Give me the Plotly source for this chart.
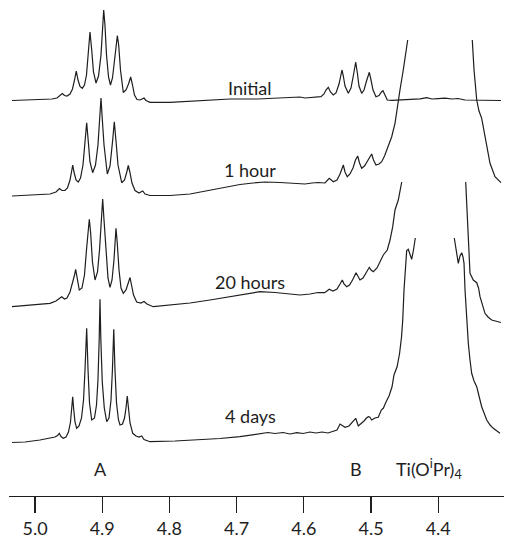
import plotly.graph_objects as go

# ---------------- data ----------------
# chemical shift (ppm) and stacked intensity (a.u.) for each spectrum; None = clipped peak top
initial_ppm = [5.0342, 5.0149, 4.9926, 4.9747, 4.9673, 4.9628, 4.9594, 4.9561, 4.9524, 4.9479,
               4.9442, 4.9412, 4.9386, 4.9360, 4.9331, 4.9296, 4.9264, 4.9234, 4.9207, 4.9182,
               4.9156, 4.9130, 4.9092, 4.9055, 4.9018, 4.8996, 4.8978, 4.8959, 4.8936, 4.8906,
               4.8877, 4.8847, 4.8817, 4.8795, 4.8775, 4.8755, 4.8728, 4.8686, 4.8646, 4.8609,
               4.8576, 4.8549, 4.8520, 4.8482, 4.8438, 4.8408, 4.8378, 4.8348, 4.8289, 4.7991,
               4.7545, 4.7098, 4.6682, 4.6354, 4.6057, 4.5982, 4.5908, 4.5819, 4.5744, 4.5700,
               4.5670, 4.5636, 4.5603, 4.5561, 4.5521, 4.5476, 4.5450, 4.5432, 4.5412, 4.5387,
               4.5338, 4.5298, 4.5261, 4.5228, 4.5201, 4.5179, 4.5139, 4.5104, 4.5067, 4.5025,
               4.5000, 4.4970, 4.4926, 4.4881, 4.4844, 4.4822, 4.4799, 4.4758, 4.4688, 4.4569,
               4.4420, 4.4271, 4.4171, 4.4092, 4.4003, 4.3899, 4.3795, 4.3706, 4.3601, 4.3453,
               4.3229, 4.3066]
initial_int = [395.5, 396, 396.5, 397, 398, 400.5, 402.5, 400.5, 400, 402,
               407, 416, 425, 416, 409.5, 407.7, 411, 421, 446, 464,
               446, 424, 413, 420, 441, 471, 486, 471, 441, 419,
               411, 418, 434, 451, 460.3, 451, 426, 403.5, 406, 412,
               419, 411, 401, 396.5, 396, 397, 398, 395.5, 393.7, 393.7,
               395, 397, 397, 397.7, 399, 398, 398.5, 399.2, 399.3, 402,
               406, 408.7, 404, 401, 403, 412, 420, 426, 420, 410,
               402.7, 408, 421, 434, 422, 410, 402.7, 406, 415, 423.7,
               416, 406, 399.3, 400.5, 404, 405.3, 402, 396, 395.7, 396,
               396.7, 397.2, 398.3, 397, 397.3, 397.8, 397, 397.5, 396, 395.7,
               395.5, 395.5]

hour1_ppm = [5.0342, 5.0075, 4.9777, 4.9688, 4.9636, 4.9598, 4.9554, 4.9517, 4.9479, 4.9457,
             4.9439, 4.9420, 4.9390, 4.9356, 4.9323, 4.9286, 4.9253, 4.9231, 4.9209, 4.9182,
             4.9142, 4.9100, 4.9063, 4.9036, 4.9018, 4.9000, 4.8973, 4.8924, 4.8884, 4.8844,
             4.8820, 4.8796, 4.8765, 4.8710, 4.8668, 4.8634, 4.8612, 4.8589, 4.8557, 4.8512,
             4.8453, 4.8397, 4.8363, 4.8289, 4.7991, 4.7694, 4.7247, 4.6950, 4.6756, 4.6578,
             4.6354, 4.6131, 4.5982, 4.5878, 4.5789, 4.5685, 4.5621, 4.5561, 4.5506, 4.5461,
             4.5412, 4.5387, 4.5353, 4.5313, 4.5268, 4.5231, 4.5198, 4.5171, 4.5139, 4.5097,
             4.5052, 4.5015, 4.4990, 4.4963, 4.4926, 4.4881, 4.4841, 4.4799, 4.4758, 4.4692,
             4.4643, 4.4609, 4.4569, 4.4520, 4.4479, 4.4454, None,
             4.3493, 4.3467, 4.3427, 4.3393, 4.3353, 4.3304, 4.3259, 4.3229, 4.3155, 4.3066]
hour1_int = [300, 301, 302, 304, 307.5, 305.5, 305.5, 308, 316, 324,
             331, 324, 316, 314, 318, 331, 356, 373.3, 356, 334,
             323.3, 331, 351, 378, 398, 378, 351, 322, 330, 356,
             374.3, 356, 331, 313.3, 316, 324, 330.5, 324, 313, 305.5,
             303, 305, 302, 300.5, 300.5, 302, 308, 311.5, 313, 314,
             313.5, 313, 312, 313, 313.5, 313, 317.7, 314.3, 316, 322,
             331, 324, 319.3, 322, 328, 336, 340, 333, 327.7, 330,
             335, 340, 342, 336, 331, 332, 334.3, 340, 347.7, 359.3,
             372.7, 389.3, 406, 426, 442.7, 456, None,
             456, 426, 396, 385, 377.7, 359.3, 343, 332.7, 319.3, 313.3]

hours20_ppm = [5.0342, 5.0075, 4.9777, 4.9688, 4.9643, 4.9603, 4.9561, 4.9524, 4.9479, 4.9435,
               4.9412, 4.9395, 4.9375, 4.9341, 4.9301, 4.9264, 4.9234, 4.9211, 4.9192, 4.9173,
               4.9145, 4.9107, 4.9070, 4.9040, 4.9014, 4.8993, 4.8973, 4.8944, 4.8914, 4.8884,
               4.8854, 4.8825, 4.8810, 4.8795, 4.8777, 4.8750, 4.8720, 4.8686, 4.8646, 4.8612,
               4.8586, 4.8564, 4.8534, 4.8487, 4.8423, 4.8378, 4.8334, 4.8240, 4.7991, 4.7694,
               4.7396, 4.7098, 4.6875, 4.6652, 4.6429, 4.6191, 4.6057, 4.5908, 4.5789, 4.5689,
               4.5621, 4.5566, 4.5506, 4.5461, 4.5427, 4.5402, 4.5362, 4.5320, 4.5275, 4.5223,
               4.5194, 4.5164, 4.5119, 4.5067, 4.5025, 4.5000, 4.4966, 4.4911, 4.4851, 4.4817,
               4.4758, 4.4717, 4.4677, 4.4643, 4.4594, 4.4561, 4.4543, None,
               4.3591, 4.3579, 4.3564, 4.3542, 4.3527, 4.3478, 4.3427, 4.3400, 4.3378, 4.3304,
               4.3259, 4.3204, 4.3140, 4.3066]
hours20_int = [189.3, 191, 192.7, 195, 197.5, 199.3, 197, 198, 204, 214,
               221, 226.7, 220, 206, 208, 221, 246, 264, 276.7, 264,
               234, 216, 224, 246, 276, 297, 276, 241, 218, 208.7,
               216, 236, 254, 267.7, 254, 226, 208, 202.7, 206, 213,
               218.5, 211, 201, 194, 193, 194.5, 192, 189.3, 191, 193,
               196, 199.5, 202, 204.3, 203.5, 202, 201, 202, 203.5, 203.3,
               206.7, 205, 207, 212, 216, 212, 209.3, 211, 216, 223.3,
               219, 216, 218, 224, 228.7, 226, 224.3, 228, 236, 241,
               246, 256, 269.3, 286, 296, 306, 314, None,
               314, 296, 266, 236, 222.7, 216, 213.3, 208, 199.3, 182.7,
               179, 176, 174.5, 173.5]

days4_ppm = [5.0342, 5.0149, 4.9926, 4.9777, 4.9703, 4.9665, 4.9639, 4.9613, 4.9579, 4.9539,
             4.9502, 4.9472, 4.9453, 4.9439, 4.9426, 4.9405, 4.9380, 4.9345, 4.9308, 4.9278,
             4.9256, 4.9231, 4.9211, 4.9189, 4.9156, 4.9115, 4.9085, 4.9063, 4.9045, 4.9033,
             4.9020, 4.8999, 4.8969, 4.8933, 4.8899, 4.8869, 4.8848, 4.8828, 4.8810, 4.8787,
             4.8758, 4.8735, 4.8698, 4.8668, 4.8646, 4.8627, 4.8609, 4.8586, 4.8546, 4.8497,
             4.8453, 4.8412, 4.8378, 4.8289, 4.7917, 4.7545, 4.7247, 4.6950, 4.6752, 4.6652,
             4.6533, 4.6429, 4.6310, 4.6206, 4.6101, 4.6012, 4.5908, 4.5819, 4.5729, 4.5640,
             4.5566, 4.5506, 4.5461, 4.5439, 4.5387, 4.5328, 4.5275, 4.5228, 4.5189, 4.5149,
             4.5104, 4.5067, 4.5040, 4.5020, 4.4990, 4.4941, 4.4892, 4.4847, 4.4817, 4.4777,
             4.4732, 4.4688, 4.4658, 4.4613, 4.4576, 4.4546, 4.4528, 4.4509, 4.4494, 4.4479,
             4.4469, 4.4445, 4.4420, 4.4395, 4.4368, 4.4341, None,
             4.3761, 4.3735, 4.3701, 4.3676, 4.3650, 4.3631, 4.3616, 4.3601, 4.3576, 4.3552,
             4.3527, 4.3502, 4.3467, 4.3427, 4.3393, 4.3353, 4.3278, 4.3229, 4.3180, 4.3081]
days4_int = [53.5, 54, 56, 57.5, 59, 60.5, 62.7, 59.5, 57.7, 59,
             64, 74, 88, 99.3, 88, 74, 67.7, 70, 78, 96,
             126, 167.7, 126, 93, 76, 78, 91, 116, 156, 196.7,
             156, 114, 88, 74.3, 78, 96, 126, 166.7, 126, 93,
             76, 71, 72, 78, 88, 100, 88, 73, 62.7, 60,
             59, 60, 56.5, 54.3, 55, 56, 57.5, 59.3, 61, 62,
             63.5, 62.5, 63.5, 62, 63.3, 62.5, 64, 63, 64, 63,
             65, 66, 72, 71, 68.7, 70, 74, 77.7, 70, 72,
             75, 78, 79.3, 79, 76, 78, 78.7, 86, 87.7, 94,
             100, 109, 121, 129, 142, 159, 176, 206, 226, 241,
             245.5, 246.7, 242, 236.7, 246, 258, None,
             258, 246, 232.7, 240, 243.3, 239, 232.7, 206, 176, 152.7,
             136, 122.7, 115, 109.3, 100, 89.3, 76, 71, 67.7, 62.7]

spectra = [(initial_ppm, initial_int), (hour1_ppm, hour1_int),
           (hours20_ppm, hours20_int), (days4_ppm, days4_int)]

spectrum_labels = ["Initial", "1 hour", "20 hours", "4 days"]
label_ppm = [4.680, 4.680, 4.680, 4.680]
label_int = [408, 326, 214, 80]

peak_labels = ["A", "B", "Ti(O<sup>i</sup>Pr)<sub>4</sub>"]
peak_label_ppm = [4.903, 4.523, 4.414]
peak_label_int = [27, 27, 27]

tick_vals = [5.0, 4.9, 4.8, 4.7, 4.6, 4.5, 4.4]
tick_text = ["5.0", "4.9", "4.8", "4.7", "4.6", "4.5", "4.4"]

# ---------------- figure ----------------
FONT = "Lato"
INK = "#1e1e1e"

fig = go.Figure()
for x, y in spectra:
    fig.add_trace(go.Scatter(x=x, y=y, mode="lines", connectgaps=False,
                             line=dict(color=INK, width=1.2), hoverinfo="skip",
                             showlegend=False))

for t, xv, yv in zip(spectrum_labels, label_ppm, label_int):
    fig.add_annotation(x=xv, y=yv, text=t, showarrow=False,
                       font=dict(family=FONT, size=18, color=INK))
for t, xv, yv in zip(peak_labels, peak_label_ppm, peak_label_int):
    fig.add_annotation(x=xv, y=yv, text=t, showarrow=False,
                       font=dict(family=FONT, size=18, color=INK))
fig.add_annotation(x=4.317, y=-31, text="ppm", showarrow=False,
                   font=dict(family=FONT, size=18, color=INK))

fig.update_layout(
    width=518, height=539,
    margin=dict(l=9, r=14, t=0, b=43),
    paper_bgcolor="white", plot_bgcolor="white",
    showlegend=False,
    xaxis=dict(range=[5.0387, 4.3021], showgrid=False, zeroline=False,
               showline=True, linecolor=INK, linewidth=1.3,
               ticks="outside", ticklen=16, tickwidth=1.3, tickcolor=INK,
               tickvals=tick_vals, ticktext=tick_text,
               tickfont=dict(family=FONT, size=18, color=INK)),
    yaxis=dict(range=[0, 496], visible=False, fixedrange=True),
)

fig.write_html("out.html", config={"displayModeBar": False, "staticPlot": True},
               post_script="document.body.style.margin='0';document.body.style.overflow='hidden';")
